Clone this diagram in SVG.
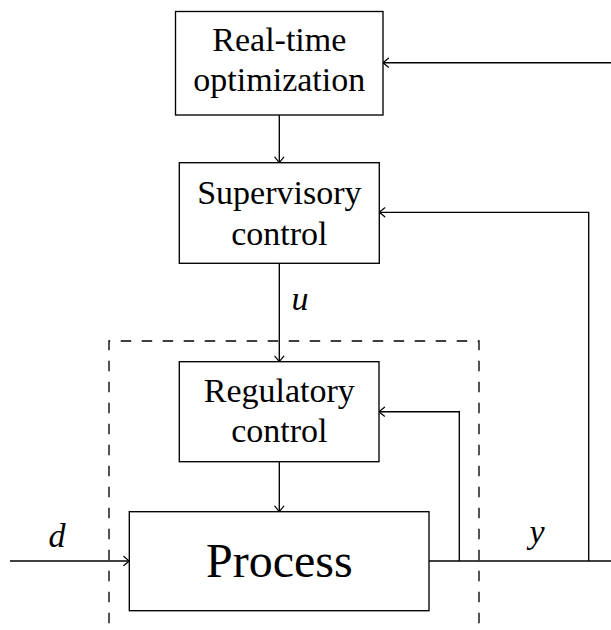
<svg xmlns="http://www.w3.org/2000/svg" width="611" height="630" viewBox="0 0 611 630">
<style>
.box{fill:#fff;stroke:#000;stroke-width:1.35}
.ln{fill:none;stroke:#000;stroke-width:1.35}
.dash{fill:none;stroke:#000;stroke-width:1.35;stroke-dasharray:10.5 10.5;stroke-dashoffset:14.3}
.t{font-family:"Liberation Serif","Times New Roman",serif;font-size:34px;fill:#000;text-anchor:middle}
.big{font-size:48px}
.it{font-style:italic}
</style>
<defs>
<marker id="arr" markerUnits="userSpaceOnUse" markerWidth="12" markerHeight="12" viewBox="-7 -6 8 12" refX="0" refY="0" orient="auto">
<path d="M -5.5 -4.5 Q -1.5 -1.2 0 0 Q -1.5 1.2 -5.5 4.5" fill="none" stroke="#000" stroke-width="1.2" stroke-linecap="round"/>
</marker>
</defs>
<g id="boundary">
<path class="dash" d="M 109 630 L 109 341 L 479 341 L 479 630"/>
</g>
<g id="connectors">
<path class="ln" d="M 611 62.7 L 383 62.7" marker-end="url(#arr)"/>
<path class="ln" d="M 279.3 115 L 279.3 162.7" marker-end="url(#arr)"/>
<path class="ln" d="M 588.7 561 L 588.7 212.3 L 379.3 212.3" marker-end="url(#arr)"/>
<path class="ln" d="M 279.3 263.3 L 279.3 361.7" marker-end="url(#arr)"/>
<path class="ln" d="M 459.3 561 L 459.3 411.7 L 379 411.7" marker-end="url(#arr)"/>
<path class="ln" d="M 279.3 461.7 L 279.3 511.7" marker-end="url(#arr)"/>
<path class="ln" d="M 10 561 L 129.3 561" marker-end="url(#arr)"/>
<path class="ln" d="M 429 561 L 611 561"/>
<text class="t it" x="300" y="310">u</text>
<text class="t it" x="57" y="547">d</text>
<text class="t it" x="537" y="543">y</text>
</g>
<g id="rto">
<rect class="box" x="175.5" y="11.5" width="207.5" height="103.5"/>
<text class="t" x="279.3" y="50.5">Real-time</text>
<text class="t" x="279.3" y="90.5">optimization</text>
</g>
<g id="supervisory">
<rect class="box" x="179.3" y="162.7" width="200" height="100.6"/>
<text class="t" x="279.3" y="204">Supervisory</text>
<text class="t" x="279.3" y="244.5">control</text>
</g>
<g id="regulatory">
<rect class="box" x="179.3" y="361.7" width="199.7" height="100"/>
<text class="t" x="279.3" y="402">Regulatory</text>
<text class="t" x="279.3" y="442">control</text>
</g>
<g id="process">
<rect class="box" x="129.3" y="511.7" width="299.7" height="99"/>
<text class="t big" x="279.3" y="577">Process</text>
</g>
</svg>
